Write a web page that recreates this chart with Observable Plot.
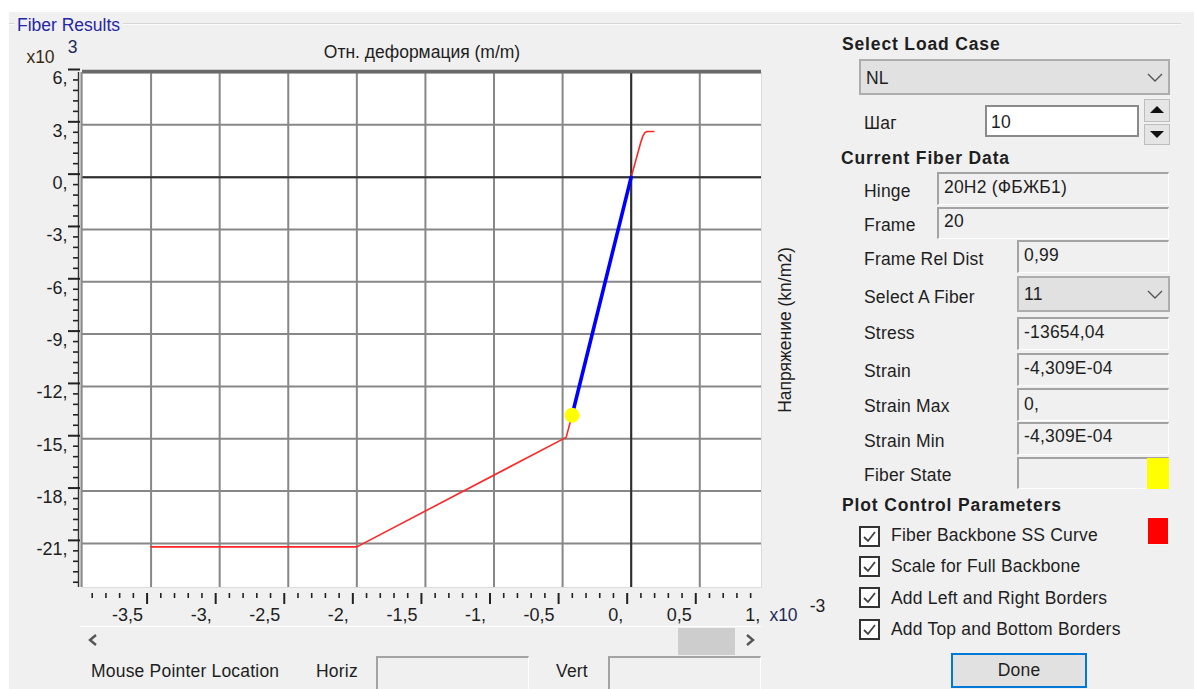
<!DOCTYPE html>
<html>
<head>
<meta charset="utf-8">
<script src="https://cdn.jsdelivr.net/npm/d3@7"></script>
<script src="https://cdn.jsdelivr.net/npm/@observablehq/plot@0.6"></script>
<style>
html,body{margin:0;padding:0;background:#fff;}
body{width:1194px;height:689px;position:relative;overflow:hidden;font-family:"Liberation Sans",Arial,sans-serif;font-size:17.5px;color:#1e1e1e;letter-spacing:0.2px;}
#dlg{position:absolute;left:9px;top:12px;width:1185px;height:677px;background:#f0f0f0;}
.t{position:absolute;line-height:20px;white-space:nowrap;}
.b{font-weight:bold;letter-spacing:0.85px;}
.box{position:absolute;box-sizing:border-box;background:#f0f0f0;border-top:2px solid #a3a3a3;border-left:2px solid #a3a3a3;border-right:1px solid #fff;border-bottom:1px solid #fff;}
.box span{position:absolute;left:5px;line-height:20px;white-space:nowrap;}
.dd{position:absolute;box-sizing:border-box;background:#e1e1e1;border:2px solid #adadad;}
.dd span{position:absolute;left:5px;line-height:20px;}
.dd svg{position:absolute;}
.cb{position:absolute;width:21px;height:21px;box-sizing:border-box;border:2px solid #333;background:#fff;}
#chart{position:absolute;left:0;top:30px;letter-spacing:0;}
#chart svg{background:transparent;}
</style>
</head>
<body>
<div id="dlg"></div>
<div style="position:absolute;left:9px;top:23px;width:1172px;height:0;border-top:1px solid #d6d6d6;border-bottom:1px solid #fbfbfb;"></div>
<div class="t" style="left:14px;top:15px;padding:0 3px;background:#f0f0f0;color:#2626a6;letter-spacing:0;">Fiber Results</div>

<div id="chart"></div>

<!-- scroll bar under chart -->
<div style="position:absolute;left:80px;top:626px;width:681px;height:1px;background:#fff;"></div>
<svg style="position:absolute;left:87px;top:633px" width="12" height="14"><polyline points="9,2 3,7 9,12" fill="none" stroke="#555" stroke-width="2.4"/></svg>
<div style="position:absolute;left:678px;top:628px;width:57px;height:27px;background:#cdcdcd;"></div>
<svg style="position:absolute;left:744px;top:633px" width="12" height="14"><polyline points="3,2 9,7 3,12" fill="none" stroke="#555" stroke-width="2.4"/></svg>

<!-- mouse pointer row -->
<div class="t" style="left:91px;top:661px;">Mouse Pointer Location</div>
<div class="t" style="left:316px;top:661px;">Horiz</div>
<div class="box" style="left:376px;top:656px;width:153px;height:36px;"></div>
<div class="t" style="left:556px;top:661px;">Vert</div>
<div class="box" style="left:608px;top:656px;width:153px;height:36px;"></div>

<!-- right panel -->
<div class="t b" style="left:842px;top:34px;">Select Load Case</div>
<div class="dd" style="left:859px;top:59px;width:311px;height:36px;"><span style="top:7px;">NL</span>
<svg style="left:286px;top:12px" width="16" height="9"><polyline points="1,1 8,8 15,1" fill="none" stroke="#555" stroke-width="1.4"/></svg></div>

<div class="t" style="left:864px;top:113px;">Шаг</div>
<div style="position:absolute;left:985px;top:105px;width:154px;height:32px;box-sizing:border-box;background:#fff;border:2px solid #8a8a8a;"></div>
<div class="t" style="left:991px;top:112px;">10</div>
<div style="position:absolute;left:1144px;top:99px;width:26px;height:23px;box-sizing:border-box;background:#e5e5e5;border:1px solid #bdbdbd;"></div>
<svg style="position:absolute;left:1150px;top:105px" width="14" height="9"><polygon points="0,8 7,1 14,8" fill="#111"/></svg>
<div style="position:absolute;left:1144px;top:124px;width:26px;height:21px;box-sizing:border-box;background:#e5e5e5;border:1px solid #bdbdbd;"></div>
<svg style="position:absolute;left:1150px;top:130px" width="14" height="9"><polygon points="0,1 14,1 7,8" fill="#111"/></svg>

<div class="t b" style="left:841px;top:148px;">Current Fiber Data</div>
<div class="t" style="left:864px;top:181px;">Hinge</div>
<div class="box" style="left:937px;top:172px;width:232px;height:33px;"><span style="top:3px;">20H2 (ФБЖБ1)</span></div>
<div class="t" style="left:864px;top:215px;">Frame</div>
<div class="box" style="left:937px;top:207px;width:232px;height:32px;"><span style="top:2px;">20</span></div>
<div class="t" style="left:864px;top:249px;">Frame Rel Dist</div>
<div class="box" style="left:1017px;top:240px;width:152px;height:33px;"><span style="top:3px;">0,99</span></div>
<div class="t" style="left:864px;top:287px;">Select A Fiber</div>
<div class="dd" style="left:1017px;top:276px;width:153px;height:36px;"><span style="top:6px;">11</span>
<svg style="left:128px;top:12px" width="16" height="9"><polyline points="1,1 8,8 15,1" fill="none" stroke="#555" stroke-width="1.4"/></svg></div>
<div class="t" style="left:864px;top:323px;">Stress</div>
<div class="box" style="left:1017px;top:317px;width:152px;height:33px;"><span style="top:3px;">-13654,04</span></div>
<div class="t" style="left:864px;top:361px;">Strain</div>
<div class="box" style="left:1017px;top:353px;width:152px;height:33px;"><span style="top:3px;">-4,309E-04</span></div>
<div class="t" style="left:864px;top:396px;">Strain Max</div>
<div class="box" style="left:1017px;top:388px;width:152px;height:33px;"><span style="top:4px;">0,</span></div>
<div class="t" style="left:864px;top:431px;">Strain Min</div>
<div class="box" style="left:1017px;top:422px;width:152px;height:33px;"><span style="top:2px;">-4,309E-04</span></div>
<div class="t" style="left:864px;top:465px;">Fiber State</div>
<div class="box" style="left:1017px;top:457px;width:152px;height:32px;"></div>
<div style="position:absolute;left:1147px;top:458px;width:22px;height:31px;background:#ffff00;"></div>

<div class="t b" style="left:842px;top:495px;">Plot Control Parameters</div>
<div class="cb" style="left:859px;top:526px;"></div>
<div class="cb" style="left:859px;top:556px;"></div>
<div class="cb" style="left:859px;top:587px;"></div>
<div class="cb" style="left:859px;top:619px;"></div>
<svg style="position:absolute;left:859px;top:526px" width="21" height="125">
<g fill="none" stroke="#444" stroke-width="1.8">
<polyline points="5,11 9,15 16,6"/>
<polyline points="5,41 9,45 16,36"/>
<polyline points="5,72 9,76 16,67"/>
<polyline points="5,104 9,108 16,99"/>
</g></svg>
<div class="t" style="left:891px;top:525px;">Fiber Backbone SS Curve</div>
<div class="t" style="left:891px;top:556px;">Scale for Full Backbone</div>
<div class="t" style="left:891px;top:588px;">Add Left and Right Borders</div>
<div class="t" style="left:891px;top:619px;">Add Top and Bottom Borders</div>
<div style="position:absolute;left:1147px;top:517px;width:22px;height:28px;background:#ff0000;border:1px solid #f6f6f6;box-sizing:border-box;"></div>
<div style="position:absolute;left:951px;top:653px;width:136px;height:35px;box-sizing:border-box;background:#e1e1e1;border:2px solid #0078d7;text-align:center;line-height:31px;">Done</div>

<script>
// ---- data (strain in m/m, stress in kN/m2) ----
const backboneStrain = [-0.0035, -0.0020, -0.000474, -0.0004309, 0, 0.00007, 0.000085, 0.0001, 0.000115, 0.000165];
const backboneStress = [-21200, -21200, -14920, -13654.04, 0, 2000, 2350, 2550, 2620, 2620];
const pathStrain = [-0.0004309, 0];
const pathStress = [-13654.04, 0];
const currentStrain = [-0.0004309];
const currentStress = [-13654.04];

// ---- axes (scaled units: strain x10^-3, stress x10^3) ----
const xGridTicks = [-3.5, -3, -2.5, -2, -1.5, -1, -0.5, 0, 0.5];
const xLabelTicks = [-3.5, -3, -2.5, -2, -1.5, -1, -0.5, 0, 0.5, 1];
const yTicks = [6, 3, 0, -3, -6, -9, -12, -15, -18, -21];
const xDomain = [-4.0, 0.95];
const yDomain = [-23.53, 6];
const xLabel = "Отн. деформация (m/m)";
const yLabel = "Напряжение (kn/m2)";

const xMinor = d3.range(-39, 10).filter(i => i % 5 !== 0).map(i => i / 10);
const yMinor = d3.range(-39, 10).filter(i => i % 5 !== 0).map(i => +(i * 0.6).toFixed(1));

const fmt = d => Number.isInteger(d) ? `${d},` : String(d).replace(".", ",");

const backbone = backboneStrain.map((s, i) => ({x: s * 1e3, y: backboneStress[i] / 1e3}));
const path = pathStrain.map((s, i) => ({x: s * 1e3, y: pathStress[i] / 1e3}));
const current = currentStrain.map((s, i) => ({x: s * 1e3, y: currentStress[i] / 1e3}));

const C = {textAnchor: "middle", lineAnchor: "middle", text: d => d};

const chart = Plot.plot({
  width: 840, height: 600,
  marginLeft: 82, marginRight: 79, marginTop: 42, marginBottom: 43,
  x: {domain: xDomain, axis: null},
  y: {domain: yDomain, axis: null},
  style: {fontFamily: "'Liberation Sans', Arial, sans-serif", fontSize: "17.5px", color: "#1e1e1e", background: "transparent", overflow: "visible"},
  marks: [
    Plot.frame({fill: "#ffffff", stroke: "#dcdcdc"}),
    Plot.gridX(xGridTicks, {stroke: "#878787", strokeOpacity: 1, strokeWidth: 2}),
    Plot.gridY(yTicks, {stroke: "#878787", strokeOpacity: 1, strokeWidth: 2}),
    Plot.ruleX([0], {stroke: "#2e2e2e", strokeWidth: 2}),
    Plot.ruleY([0], {stroke: "#2e2e2e", strokeWidth: 2}),
    Plot.ruleY([yDomain[1]], {stroke: "#6a6a6a", strokeWidth: 3.5, dy: -1}),
    Plot.ruleX([xDomain[0]], {stroke: "#8a8a8a", strokeWidth: 2, dx: -1}),
    Plot.line(backbone, {x: "x", y: "y", stroke: "#ff2626", strokeWidth: 1.6}),
    Plot.line(path, {x: "x", y: "y", stroke: "#0000ff", strokeWidth: 3.6}),
    Plot.dot(current, {x: "x", y: "y", r: 7.5, fill: "#ffff00", stroke: "none"}),
    // y ruler
    Plot.ruleX([xDomain[0]], {stroke: "#333", strokeWidth: 1.4, dx: -4}),
    Plot.axisY(yTicks, {anchor: "left", tickSize: 12, dx: -2, dy: -3, fill: "none", stroke: "#222", strokeWidth: 2}),
    Plot.axisY(yMinor, {anchor: "left", tickSize: 5, dx: -4, dy: -3, fill: "none", stroke: "#222", strokeWidth: 1.6}),
    Plot.text(yTicks, {y: d => d, text: fmt, frameAnchor: "left", dx: -15, dy: 6, textAnchor: "end", lineAnchor: "middle", fontSize: 18}),
    // x ruler
    Plot.axisX(xGridTicks, {anchor: "bottom", tickSize: 11, dx: -4, dy: 6, fill: "none", stroke: "#222", strokeWidth: 2}),
    Plot.axisX(xMinor, {anchor: "bottom", tickSize: 5, dx: -4, dy: 6, fill: "none", stroke: "#222", strokeWidth: 1.6}),
    Plot.text(xLabelTicks, {x: d => d, text: fmt, frameAnchor: "bottom", dx: -8, dy: 28, textAnchor: "end", lineAnchor: "middle", fontSize: 18}),
    // titles and multipliers
    Plot.text([xLabel], {...C, frameAnchor: "top", dy: -20}),
    Plot.text([yLabel], {...C, frameAnchor: "right", dx: 24, rotate: -90}),
    Plot.text(["x10"], {...C, frameAnchor: "top-left", dx: -42, dy: -15, fill: "#3b2a12"}),
    Plot.text(["3"], {...C, frameAnchor: "top-left", dx: -10, dy: -25, fill: "#1f2a55"}),
    Plot.text(["x10"], {...C, frameAnchor: "bottom-right", dx: 22, dy: 28, fill: "#1f2a55"}),
    Plot.text(["-3"], {...C, frameAnchor: "bottom-right", dx: 56, dy: 19, fill: "#1e1e1e"})
  ]
});
document.getElementById("chart").appendChild(chart);
</script>
</body>
</html>
